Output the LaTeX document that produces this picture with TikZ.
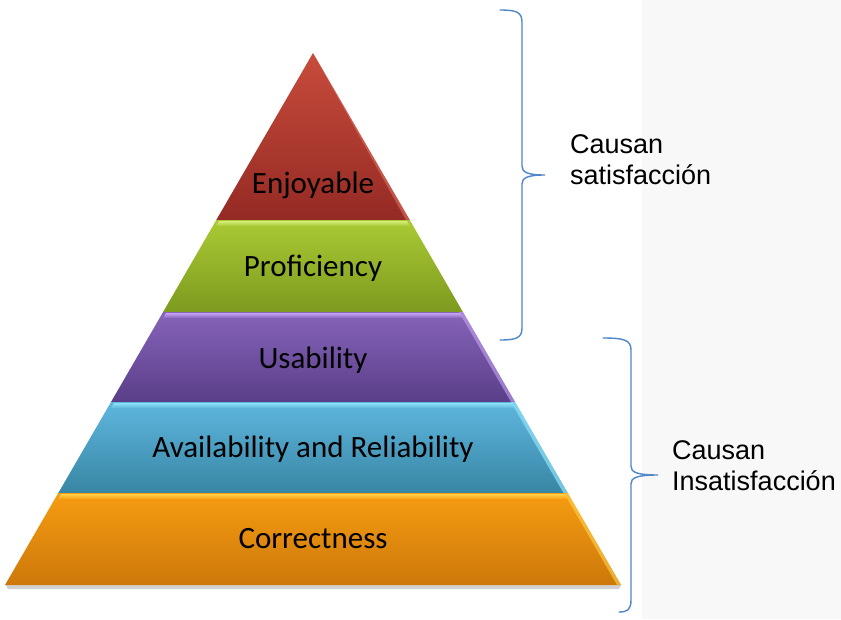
\documentclass[tikz,border=0pt]{standalone}
\usepackage{fontspec}
\setmainfont{Carlito}
\newfontfamily\arialfont{Liberation Sans}
\definecolor{pagegray}{HTML}{F8F8F8}
\definecolor{bracecol}{HTML}{4F87C9}
\definecolor{redtop}{HTML}{C84C3C}
\definecolor{redbot}{HTML}{942A24}
\definecolor{redhl}{HTML}{E07060}
\definecolor{greentop}{HTML}{AACA34}
\definecolor{greenbot}{HTML}{7C9A1E}
\definecolor{greenhl}{HTML}{D4EE78}
\definecolor{purpletop}{HTML}{8664BA}
\definecolor{purplebot}{HTML}{5A3E88}
\definecolor{purplehl}{HTML}{C8A4F4}
\definecolor{bluetop}{HTML}{5EB6DE}
\definecolor{bluebot}{HTML}{3886A4}
\definecolor{bluehl}{HTML}{8EE2F8}
\definecolor{orangetop}{HTML}{F69C12}
\definecolor{orangebot}{HTML}{CC780A}
\definecolor{orangehl}{HTML}{FFD24C}
\tikzset{
  layer/.style={font=\fontsize{31}{34}\selectfont, text=black, anchor=base, inner sep=0pt},
  side/.style={font=\arialfont\fontsize{27}{31}\selectfont, align=left, anchor=north west, inner sep=0pt},
  bracket/.style={draw=bracecol, line width=1.4pt, line cap=round}
}
\begin{document}
\begin{tikzpicture}[x=1pt,y=-1pt]
  \useasboundingbox (0,0) rectangle (841,619);
  \fill[pagegray] (0,0) rectangle (841,619);
  \fill[white] (0,0) rectangle (642,619);
  \fill[black!18] (6,585) -- (621,585) -- (619,589) -- (8,589) -- cycle;
  \shade[top color=redtop, bottom color=redbot]
    (313,53) -- (409.7,220) -- (216.3,220) -- cycle;
  \fill[redhl, opacity=0.6] (313,53) -- (409.7,220) -- (406,220) -- cycle;
  \shade[top color=greentop, bottom color=greenbot]
    (216.3,220) -- (409.7,220) -- (462.9,312) -- (163.1,312) -- cycle;
  \shade[top color=greenhl, bottom color=greentop]
    (219,221) -- (407,221) -- (410,226) -- (216,226) -- cycle;
  \shade[top color=purpletop, bottom color=purplebot]
    (163.1,312) -- (462.9,312) -- (515,402) -- (111,402) -- cycle;
  \shade[top color=purplehl, bottom color=purpletop]
    (166,313) -- (460,313) -- (463,318) -- (163,318) -- cycle;
  \fill[purplehl, opacity=0.6] (462.9,312) -- (515,402) -- (511,402) -- (459,312) -- cycle;
  \shade[top color=bluetop, bottom color=bluebot]
    (111,402) -- (515,402) -- (567.7,493) -- (58.3,493) -- cycle;
  \shade[top color=bluehl, bottom color=bluetop]
    (114,403) -- (512,403) -- (515,408) -- (111,408) -- cycle;
  \fill[bluehl, opacity=0.7] (515,402) -- (567.7,493) -- (563.5,493) -- (511,402) -- cycle;
  \shade[top color=orangetop, bottom color=orangebot]
    (58.3,493) -- (567.7,493) -- (621,585) -- (5,585) -- cycle;
  \shade[top color=orangehl, bottom color=orangetop]
    (61,494) -- (565,494) -- (568,499) -- (58,499) -- cycle;
  \fill[orangehl, opacity=0.6] (567.7,493) -- (621,585) -- (617,585) -- (564,493) -- cycle;
  \node[layer] (enjoyable) at (313,193) {Enjoyable};
  \node[layer] (proficiency) at (313,276) {Proficiency};
  \node[layer] (usability) at (313,368) {Usability};
  \node[layer] (availability) at (313,457) {Availability and Reliability};
  \node[layer] (correctness) at (313,548) {Correctness};
  \draw[bracket] (500,10) .. controls (516,10) and (522,12) .. (522,22) -- (522,166)
    .. controls (522,172) and (527,175) .. (545,175)
    .. controls (527,175) and (522,178) .. (522,184) -- (522,328)
    .. controls (522,338) and (516,340) .. (500,340);
  \draw[bracket] (603,338) .. controls (624,338) and (631,340) .. (631,350) -- (631,466)
    .. controls (631,472) and (636,475) .. (658,475)
    .. controls (636,475) and (631,478) .. (631,484) -- (631,600)
    .. controls (631,610) and (627,612) .. (619,612);
  \node[side] (satisf) at (570,134) {Causan\\satisfacción};
  \node[side] (insatisf) at (672,440) {Causan\\Insatisfacción};
\end{tikzpicture}
\end{document}
